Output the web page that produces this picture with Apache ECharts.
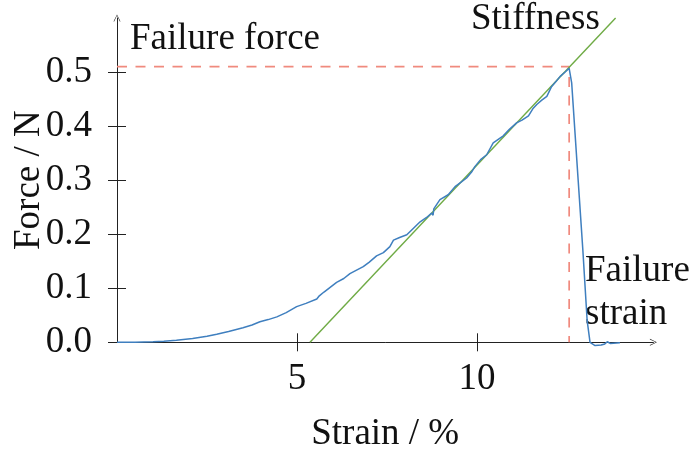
<!DOCTYPE html>
<html>
<head>
<meta charset="utf-8">
<script src="https://cdn.jsdelivr.net/npm/echarts@6/dist/echarts.min.js"></script>
<style>
html,body{margin:0;padding:0;background:#fff;}
#c{width:692px;height:459px;}
</style>
</head>
<body>
<div id="c"></div>
<script>
// ---- data ----
const xTicks = [5, 10];
const yTicks = [0, 0.1, 0.2, 0.3, 0.4, 0.5];
const strain = [0, 0.5, 1.0, 1.3, 1.65, 2.1, 2.5, 2.77, 3.1, 3.5, 3.75, 3.97, 4.2, 4.44, 4.7, 4.99, 5.25, 5.55, 5.6, 5.62, 5.75,
  6.1, 6.3, 6.47, 6.84, 7.0, 7.21, 7.4, 7.58, 7.68, 7.85, 8.05, 8.25, 8.42, 8.6, 8.74, 8.78, 8.8, 8.97, 9.2, 9.39, 9.55, 9.71,
  9.85, 9.94, 10.1, 10.27, 10.45, 10.6, 10.73, 10.9, 11.1, 11.25, 11.43, 11.55, 11.66, 11.8, 11.94, 12.07, 12.2, 12.31, 12.45,
  12.56, 12.63, 12.81, 12.94, 13.06, 13.14, 13.28, 13.45, 13.55, 13.62, 13.7, 13.97];
const force = [0, 0, 0.001, 0.002, 0.004, 0.007, 0.011, 0.015, 0.02, 0.027, 0.032, 0.038, 0.042, 0.047, 0.055, 0.066, 0.072, 0.080, 0.078, 0.086, 0.093,
  0.111, 0.118, 0.127, 0.140, 0.148, 0.160, 0.166, 0.177, 0.189, 0.194, 0.199, 0.212, 0.223, 0.231, 0.239, 0.235, 0.247, 0.264, 0.273, 0.288, 0.296, 0.304,
  0.315, 0.325, 0.338, 0.347, 0.369, 0.376, 0.382, 0.394, 0.406, 0.411, 0.419, 0.432, 0.440, 0.448, 0.455, 0.473, 0.483, 0.492, 0.500,
  0.507, 0.480, 0.300, 0.171, 0.040, 0.0, -0.006, -0.005, -0.003, 0.001, -0.002, -0.001];
const stiffnessStrain = [5.36, 13.85];
const stiffnessForce = [0, 0.600];
const failureForce = 0.51;
const failureStrain = 12.56;

const FONT = '"Liberation Serif", "DejaVu Serif", serif';
const FS = 37;
const AX = '#222';

const curve = strain.map((s, i) => [s, force[i]]);
const stiff = stiffnessStrain.map((s, i) => [s, stiffnessForce[i]]);
const dashed = [[0, failureForce], [failureStrain, failureForce], [failureStrain, 0]];

const arrow = 'path://M5,0 L10,10 L9,10 L5,1.6 L1,10 L0,10 Z';

const chart = echarts.init(document.getElementById('c'), null, {renderer: 'canvas'});
chart.setOption({
  animation: false,
  backgroundColor: '#fff',
  grid: {left: 117, right: 38.6, top: 18, bottom: 116.7, outerBoundsMode: 'none', containLabel: false},
  xAxis: [{
    type: 'value', min: 0, max: 14.9, position: 'bottom',
    name: 'Strain / %', nameLocation: 'middle', nameGap: 73, nameMoveOverlap: false,
    nameTextStyle: {fontFamily: FONT, fontSize: FS, color: '#111'},
    axisLine: {show: true, onZero: false, symbol: ['none', arrow], symbolSize: [9, 7], lineStyle: {color: AX, width: 1}},
    axisTick: {show: true, customValues: xTicks, length: 9, inside: false, lineStyle: {color: AX, width: 1}},
    axisLabel: {customValues: xTicks, margin: 18, fontFamily: FONT, fontSize: FS, color: '#111'},
    splitLine: {show: false}
  }, {
    type: 'value', min: 0, max: 14.9, position: 'bottom',
    axisLine: {show: false},
    axisTick: {show: true, customValues: xTicks, length: 9, inside: true, lineStyle: {color: AX, width: 1}},
    axisLabel: {show: false},
    splitLine: {show: false}
  }],
  yAxis: [{
    type: 'value', min: 0, max: 0.6, position: 'left',
    name: 'Force / N', nameLocation: 'middle', nameGap: 69, nameRotate: 90, nameMoveOverlap: false,
    nameTextStyle: {fontFamily: FONT, fontSize: FS, color: '#111'},
    axisLine: {show: true, onZero: false, symbol: ['none', arrow], symbolSize: [9, 7], lineStyle: {color: AX, width: 1}},
    axisTick: {show: true, customValues: yTicks, length: 9, inside: false, lineStyle: {color: AX, width: 1}},
    axisLabel: {customValues: yTicks, margin: 25, fontFamily: FONT, fontSize: FS, color: '#111',
      formatter: v => v.toFixed(1)},
    splitLine: {show: false}
  }, {
    type: 'value', min: 0, max: 0.6, position: 'left',
    axisLine: {show: false},
    axisTick: {show: true, customValues: yTicks, length: 9, inside: true, lineStyle: {color: AX, width: 1}},
    axisLabel: {show: false},
    splitLine: {show: false}
  }],
  series: [{
    type: 'line', data: dashed, symbol: 'none', clip: false,
    lineStyle: {color: '#f08a7e', width: 1.7, type: [10, 8.5]}, z: 2
  }, {
    type: 'line', data: stiff, symbol: 'none', clip: false,
    lineStyle: {color: '#6fab45', width: 1.4}, z: 3
  }, {
    type: 'line', data: curve, symbol: 'none', clip: false,
    lineStyle: {color: '#3f7fbf', width: 1.5}, z: 4
  }],
  graphic: [
    {type: 'text', left: 130, top: 21, style: {text: 'Failure force', font: FS + 'px ' + FONT, fill: '#111'}},
    {type: 'text', left: 471, top: 1, style: {text: 'Stiffness', font: FS + 'px ' + FONT, fill: '#111'}},
    {type: 'text', left: 585, top: 253, style: {text: 'Failure', font: FS + 'px ' + FONT, fill: '#111'}},
    {type: 'text', left: 585, top: 296, style: {text: 'strain', font: FS + 'px ' + FONT, fill: '#111'}}
  ]
});
</script>
</body>
</html>
